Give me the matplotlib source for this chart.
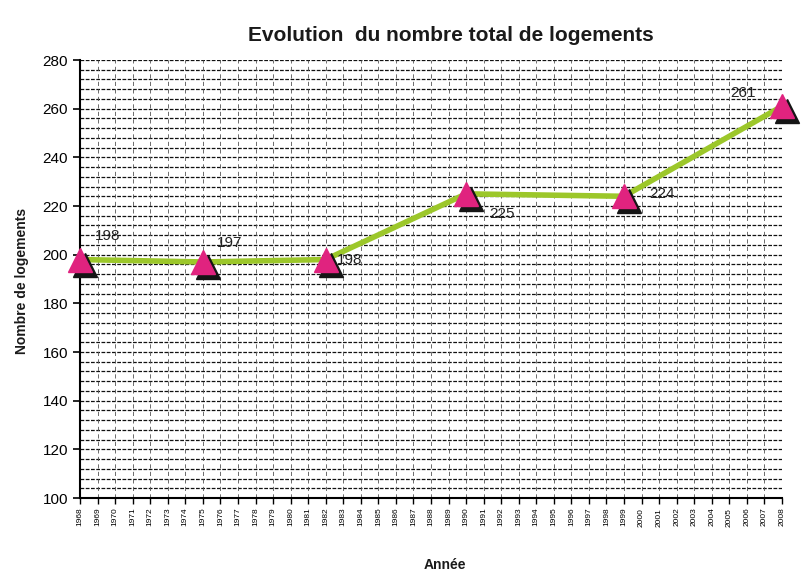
import matplotlib
matplotlib.use("Agg")
import matplotlib.pyplot as plt
import matplotlib.transforms as mtransforms
import numpy as np

plt.rcParams["font.family"] = ["Liberation Sans", "DejaVu Sans"]

years = [1968, 1975, 1982, 1990, 1999, 2008]
logements = [198, 197, 198, 225, 224, 261]
label_offsets = [(28, 24), (27, 19), (24, 0), (36, -20), (38, 2), (-39, 13)]
year_ticks = list(range(1968, 2009))
y_major = list(range(100, 281, 20))

fig = plt.figure(figsize=(8.02, 5.85), dpi=100)
ax = fig.add_axes([0.0998, 0.1487, 0.8752, 0.7487])

ax.set_xlim(1968, 2008)
ax.set_ylim(100, 280)

# grid: dashed horizontal every 4 units, light dashed vertical each year
for yv in np.arange(104, 281, 4):
    ax.axhline(yv, color="#111111", lw=0.9, ls=(0, (3, 1.2)), zorder=1)
for xv in year_ticks[1:]:
    ax.axvline(xv, color="#555555", lw=0.6, ls=(0, (5, 4)), zorder=1)

ax.plot(years, logements, color="#9cc72a", lw=4, zorder=3, solid_capstyle="round")

# marker shadow, shifted down-right
shadow = mtransforms.offset_copy(ax.transData, fig=fig, x=5, y=-5, units="dots")
ax.plot(years, logements, ls="none", marker="^", ms=17, color="#151515",
        transform=shadow, zorder=4, clip_on=False)
ax.plot(years, logements, ls="none", marker="^", ms=17, color="#e0237f",
        zorder=5, clip_on=False)

for x, y, off in zip(years, logements, label_offsets):
    ax.annotate(str(y), (x, y), xytext=off, textcoords="offset pixels",
                ha="center", va="center", fontsize=11, color="#222222", zorder=6)

ax.set_xticks(year_ticks)
ax.set_xticklabels([str(v) for v in year_ticks], rotation=90, fontsize=6)
ax.set_yticks(y_major)
ax.set_yticklabels([str(v) for v in y_major], fontsize=11)
ax.tick_params(axis="y", length=5, width=1.2, direction="out")
ax.tick_params(axis="x", length=4, width=1, direction="out", pad=3)

for side in ("top", "right"):
    ax.spines[side].set_visible(False)
ax.spines["left"].set_linewidth(1.5)
ax.spines["bottom"].set_linewidth(1.5)

fig.text(0.562, 0.94, "Evolution  du nombre total de logements", ha="center",
         va="center", fontsize=15, fontweight="bold", color="#1a1a1a")
fig.text(0.555, 0.034, "Année", ha="center", va="center", fontsize=10,
         fontweight="bold", color="#1a1a1a")
fig.text(0.027, 0.52, "Nombre de logements", ha="center", va="center",
         rotation=90, fontsize=10, fontweight="bold", color="#1a1a1a")

fig.savefig("out.png", dpi=100)
